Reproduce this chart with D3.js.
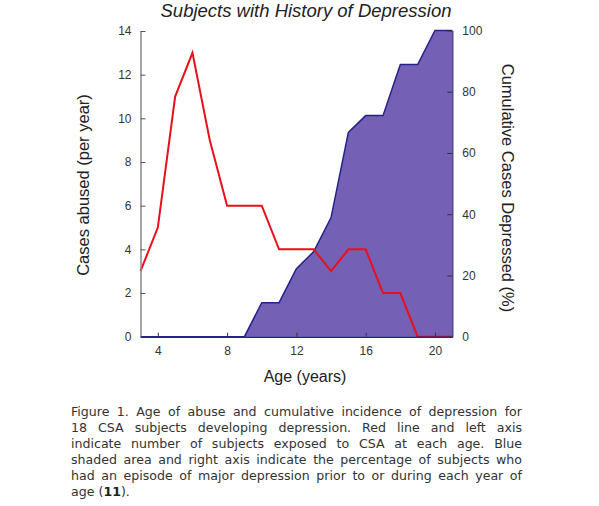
<!DOCTYPE html>
<html>
<head>
<meta charset="utf-8">
<script src="https://cdn.jsdelivr.net/npm/d3@7"></script>
<style>
  html, body { margin: 0; padding: 0; background: #fff; }
  #wrap { position: relative; width: 599px; height: 506px; overflow: hidden; }
  svg { position: absolute; left: 0; top: 0; }
  #caption { position: absolute; left: 71px; top: 404px; width: 451px;
    font-family: "DejaVu Sans", Verdana, sans-serif; font-size: 12.6px; color: #333; line-height: 16px; }
  #caption div { text-align: justify; text-align-last: justify; white-space: nowrap; }
  #caption div.last { text-align-last: left; }
  #caption b { font-weight: 600; color: #222; }
</style>
</head>
<body>
<div id="wrap"></div>
<script>
// ---- data ----
const ages = [3, 4, 5, 6, 7, 8, 9, 10, 11, 12, 13, 14, 15, 16, 17, 18, 19, 20, 21];
const casesAbused = [3, 5, 11, 13, 9, 6, 6, 6, 4, 4, 4, 3, 4, 4, 2, 2, 0, 0, 0];
const cumulativeDepressed = [0, 0, 0, 0, 0, 0, 0, 11.1, 11.1, 22.2, 27.8, 38.9, 66.7, 72.2, 72.2, 88.9, 88.9, 100, 100];
const xTicks = [4, 8, 12, 16, 20];
const leftTicks = [0, 2, 4, 6, 8, 10, 12, 14];
const rightTicks = [0, 20, 40, 60, 80, 100];
const title = "Subjects with History of Depression";
const xTitle = "Age (years)";
const leftTitle = "Cases abused (per year)";
const rightTitle = "Cumulative Cases Depressed (%)";
const captionLines = [
  "Figure 1. Age of abuse and cumulative incidence of depression for",
  "18 CSA subjects developing depression. Red line and left axis",
  "indicate number of subjects exposed to CSA at each age. Blue",
  "shaded area and right axis indicate the percentage of subjects who",
  "had an episode of major depression prior to or during each year of",
  "age (<b>11</b>)."
];

const W = 599, H = 506;
const font = "'Liberation Sans', Arial, Helvetica, sans-serif";
const svg = d3.select("#wrap").append("svg").attr("width", W).attr("height", 400);

const x = d3.scaleLinear().domain([3, 21]).range([140.5, 452.3]);
const yL = d3.scaleLinear().domain([0, 14]).range([336.7, 31]);
const yR = d3.scaleLinear().domain([0, 100]).range([336.7, 30.5]);

const data = ages.map((a, i) => ({ a, c: casesAbused[i], p: cumulativeDepressed[i] }));

// area
svg.append("path").datum(data)
  .attr("d", d3.area().x(d => x(d.a)).y0(yR(0)).y1(d => yR(d.p)))
  .attr("fill", "#7461b5").attr("stroke", "none");
svg.append("path").datum(data)
  .attr("d", d3.line().x(d => x(d.a)).y(d => yR(d.p)))
  .attr("fill", "none").attr("stroke", "#23238a").attr("stroke-width", 1.5);

// red line
svg.append("path").datum(data)
  .attr("d", d3.line().x(d => x(d.a)).y(d => yL(d.c)))
  .attr("fill", "none").attr("stroke", "#e8101a").attr("stroke-width", 2)
  .attr("stroke-linejoin", "miter");

// axes
const gL = svg.append("g").attr("transform", `translate(${x(3)},0)`)
  .call(d3.axisLeft(yL).tickValues(leftTicks).tickSizeInner(-5).tickSizeOuter(0).tickPadding(9).tickFormat(d3.format("d")));
const gR = svg.append("g").attr("transform", `translate(${x(21)},0)`)
  .call(d3.axisRight(yR).tickValues(rightTicks).tickSizeInner(-5).tickSizeOuter(0).tickPadding(10).tickFormat(d3.format("d")));
const gB = svg.append("g").attr("transform", `translate(0,${yL(0)})`)
  .call(d3.axisBottom(x).tickValues(xTicks).tickSizeInner(-4).tickSizeOuter(0).tickPadding(10).tickFormat(d3.format("d")));

[gL, gR, gB].forEach(g => {
  g.selectAll("text").attr("font-family", font).attr("font-size", 12).attr("fill", "#333");
});
gL.select(".domain").attr("stroke", "#888").attr("stroke-width", 1.5);
gL.selectAll(".tick line").attr("stroke", "#555");
gR.select(".domain").attr("stroke", "#2a2a6a").attr("stroke-width", 1.2);
gR.selectAll(".tick line").attr("stroke", "#333");
gB.select(".domain").attr("stroke", "#23238a").attr("stroke-width", 1.5);
gB.selectAll(".tick line").attr("stroke", "#333");
gB.selectAll("text").attr("dy", "0.71em");

// titles
svg.append("text").attr("x", 306).attr("y", 17).attr("text-anchor", "middle")
  .attr("font-family", font).attr("font-style", "italic").attr("font-size", 18.5).attr("fill", "#222")
  .text(title);
svg.append("text").attr("x", 305).attr("y", 382).attr("text-anchor", "middle")
  .attr("font-family", font).attr("font-size", 16).attr("fill", "#222").text(xTitle);
svg.append("text").attr("transform", "translate(89,185) rotate(-90)").attr("text-anchor", "middle")
  .attr("font-family", font).attr("font-size", 16.5).attr("fill", "#222").text(leftTitle);
svg.append("text").attr("transform", "translate(502,188) rotate(90)").attr("text-anchor", "middle")
  .attr("font-family", font).attr("font-size", 16.5).attr("fill", "#222").text(rightTitle);

// caption
const cap = d3.select("#wrap").append("div").attr("id", "caption");
captionLines.forEach((l, i) => {
  cap.append("div").attr("class", i === captionLines.length - 1 ? "last" : null).html(l);
});
</script>
</body>
</html>
